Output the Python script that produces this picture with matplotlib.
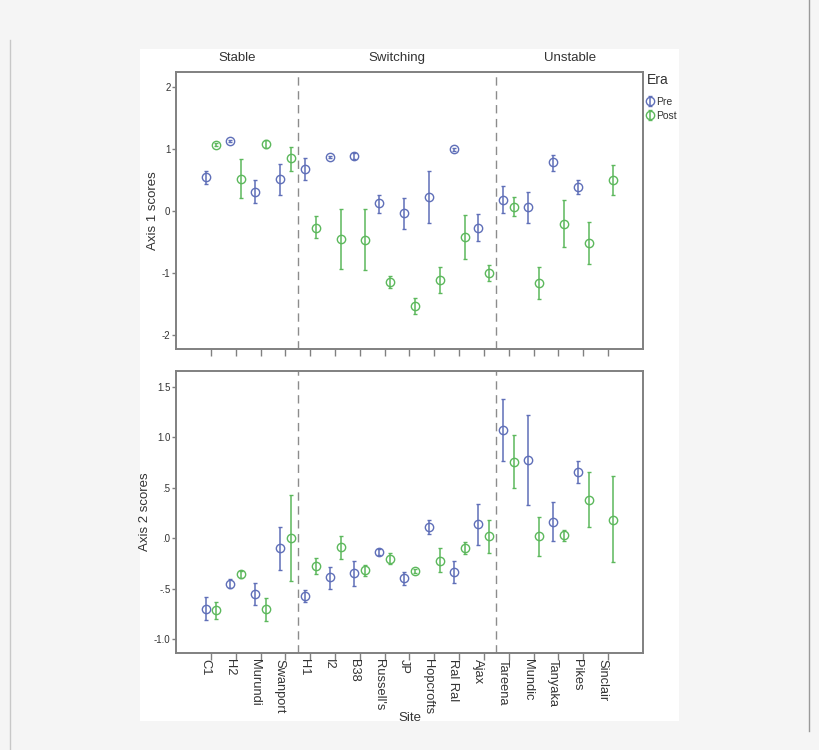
import numpy as np
import matplotlib.pyplot as plt
from matplotlib.patches import Rectangle
from matplotlib.lines import Line2D
from matplotlib.ticker import FuncFormatter

plt.rcParams['font.family'] = ['Liberation Sans', 'DejaVu Sans']
plt.rcParams['axes.unicode_minus'] = False

sites = ['C1', 'H2', 'Murundi', 'Swanport', 'H1', 'I2', 'B38', "Russell's", 'JP',
         'Hopcrofts', 'Ral Ral', 'Ajax', 'Tareena', 'Mundic', 'Tanyaka', 'Pikes', 'Sinclair']
groups = ['Stable', 'Switching', 'Unstable']
group_sizes = [4, 8, 5]

nan = np.nan
# Axis 1 scores: mean, lower, upper
ax1_pre = [0.545, 1.13, 0.31, 0.51, 0.68, 0.87, 0.88, 0.12, -0.04, 0.23, 0.99, -0.27, 0.18, 0.06, 0.78, 0.38, nan]
ax1_pre_lo = [0.44, 1.11, 0.12, 0.26, 0.50, 0.85, 0.83, -0.03, -0.30, -0.19, 0.97, -0.49, -0.04, -0.19, 0.65, 0.27, nan]
ax1_pre_hi = [0.64, 1.15, 0.50, 0.76, 0.86, 0.89, 0.93, 0.26, 0.21, 0.65, 1.01, -0.05, 0.40, 0.31, 0.90, 0.49, nan]
ax1_post = [1.07, 0.51, 1.08, 0.845, -0.27, -0.45, -0.465, -1.15, -1.535, -1.12, -0.42, -1.0, 0.06, -1.16, -0.21, -0.52, 0.50]
ax1_post_lo = [1.04, 0.20, 1.02, 0.65, -0.44, -0.94, -0.96, -1.24, -1.67, -1.32, -0.78, -1.13, -0.09, -1.42, -0.59, -0.86, 0.26]
ax1_post_hi = [1.10, 0.83, 1.14, 1.03, -0.09, 0.03, 0.03, -1.05, -1.40, -0.91, -0.06, -0.87, 0.22, -0.90, 0.17, -0.18, 0.74]

# Axis 2 scores: mean, lower, upper
ax2_pre = [-0.70, -0.45, -0.55, -0.10, -0.57, -0.39, -0.35, -0.14, -0.40, 0.11, -0.335, 0.14, 1.07, 0.775, 0.16, 0.66, nan]
ax2_pre_lo = [-0.81, -0.49, -0.66, -0.32, -0.63, -0.50, -0.47, -0.17, -0.46, 0.04, -0.44, -0.07, 0.77, 0.33, -0.03, 0.55, nan]
ax2_pre_hi = [-0.58, -0.41, -0.44, 0.11, -0.51, -0.29, -0.23, -0.11, -0.34, 0.18, -0.23, 0.34, 1.38, 1.22, 0.36, 0.77, nan]
ax2_post = [-0.715, -0.36, -0.705, 0.0, -0.28, -0.09, -0.32, -0.205, -0.33, -0.225, -0.10, 0.02, 0.76, 0.02, 0.03, 0.38, 0.185]
ax2_post_lo = [-0.80, -0.40, -0.82, -0.43, -0.36, -0.21, -0.38, -0.26, -0.35, -0.34, -0.16, -0.15, 0.50, -0.18, -0.03, 0.11, -0.24]
ax2_post_hi = [-0.63, -0.33, -0.59, 0.43, -0.20, 0.02, -0.27, -0.15, -0.31, -0.10, -0.04, 0.18, 1.02, 0.21, 0.08, 0.66, 0.62]

blue = '#5f6fb8'
green = '#5cb85c'
edge = '#808080'
txt = '#333333'

fig = plt.figure(figsize=(8.2, 7.5), dpi=100, facecolor='#f5f5f5')
# white plot card and side rules
fig.patches.append(Rectangle((140 / 820, 1 - 721 / 750), 539 / 820, 672 / 750,
                             transform=fig.transFigure, facecolor='white', edgecolor='none', zorder=-5))
fig.lines.append(Line2D([10.5 / 820, 10.5 / 820], [0, 1 - 40 / 750], transform=fig.transFigure,
                        color='#c8c8c8', lw=1, zorder=-5))
fig.lines.append(Line2D([809 / 820, 809 / 820], [1 - 731 / 750, 1], transform=fig.transFigure,
                        color='#9a9a9a', lw=1, zorder=-5))

ax_top = fig.add_axes([176 / 820, 1 - 349 / 750, 467 / 820, 277 / 750])
ax_bot = fig.add_axes([176 / 820, 1 - 653 / 750, 467 / 820, 282 / 750])

x = np.arange(len(sites))
off = 0.22
bounds = np.cumsum(group_sizes)[:-1] - 0.5


def draw(ax, pre, pre_lo, pre_hi, post, post_lo, post_hi):
    pre, pre_lo, pre_hi = map(np.array, (pre, pre_lo, pre_hi))
    post, post_lo, post_hi = map(np.array, (post, post_lo, post_hi))
    h1 = ax.errorbar(x - off, pre, yerr=[pre - pre_lo, pre_hi - pre], fmt='o', mfc='none',
                     mec=blue, ecolor=blue, ms=6, mew=1, elinewidth=1.1, capsize=1.5,
                     capthick=1, label='Pre')
    h2 = ax.errorbar(x + off, post, yerr=[post - post_lo, post_hi - post], fmt='o', mfc='none',
                     mec=green, ecolor=green, ms=6, mew=1, elinewidth=1.1, capsize=1.5,
                     capthick=1, label='Post')
    for b in bounds:
        ax.axvline(b, color='#8c8c8c', ls=(0, (6, 4)), lw=1)
    ax.set_xlim(-1.41, len(sites) - 1 + 1.41)
    ax.set_xticks(x)
    for s in ax.spines.values():
        s.set_color(edge)
        s.set_linewidth(1.4)
    ax.tick_params(axis='x', colors=edge, labelcolor=txt, width=1, length=5, pad=-1)
    ax.tick_params(axis='y', colors=edge, labelcolor=txt, width=1, labelsize=7, length=3, pad=1)
    return h1, h2


h1, h2 = draw(ax_top, ax1_pre, ax1_pre_lo, ax1_pre_hi, ax1_post, ax1_post_lo, ax1_post_hi)
draw(ax_bot, ax2_pre, ax2_pre_lo, ax2_pre_hi, ax2_post, ax2_post_lo, ax2_post_hi)

ax_top.set_ylim(-2.23, 2.24)
ax_top.set_yticks([-2, -1, 0, 1, 2])
ax_top.set_xticklabels([])
ax_top.set_ylabel('Axis 1 scores', fontsize=9.5, color=txt, labelpad=2)

ax_bot.set_ylim(-1.14, 1.66)
ax_bot.set_yticks([-1.0, -0.5, 0.0, 0.5, 1.0, 1.5])


def fmt(v, pos):
    s = '%.1f' % v
    if abs(v) < 1:
        s = s.replace('0.', '.')
    if s == '-.0':
        s = '.0'
    return s


ax_bot.yaxis.set_major_formatter(FuncFormatter(fmt))
ax_bot.set_xticklabels(sites, rotation=270, fontsize=9.3, va='top', ha='right')
ax_bot.set_ylabel('Axis 2 scores', fontsize=9.5, color=txt, labelpad=2)
ax_bot.set_xlabel('Site', fontsize=9.5, color=txt, labelpad=-1)

# facet titles centred over each group's span
edges = [ax_top.get_xlim()[0]] + list(bounds) + [ax_top.get_xlim()[1]]
for i, g in enumerate(groups):
    ax_top.text((edges[i] + edges[i + 1]) / 2, 1.03, g, transform=ax_top.get_xaxis_transform(),
                ha='center', va='bottom', fontsize=9.5, color=txt)

leg = ax_top.legend(handles=[h1, h2], labels=['Pre', 'Post'], title='Era', loc='upper left',
                    bbox_to_anchor=(1.006, 1.0), frameon=False, fontsize=7.5, handlelength=0.6,
                    handletextpad=0.3, borderaxespad=0.1, borderpad=0.0, labelspacing=0.35,
                    handleheight=1.0)
leg.get_title().set_fontsize(10)
leg.get_title().set_color(txt)
for t in leg.get_texts():
    t.set_color(txt)
leg._legend_box.align = 'left'
leg._legend_box.sep = 7

fig.savefig('out.png', dpi=100, facecolor=fig.get_facecolor())
